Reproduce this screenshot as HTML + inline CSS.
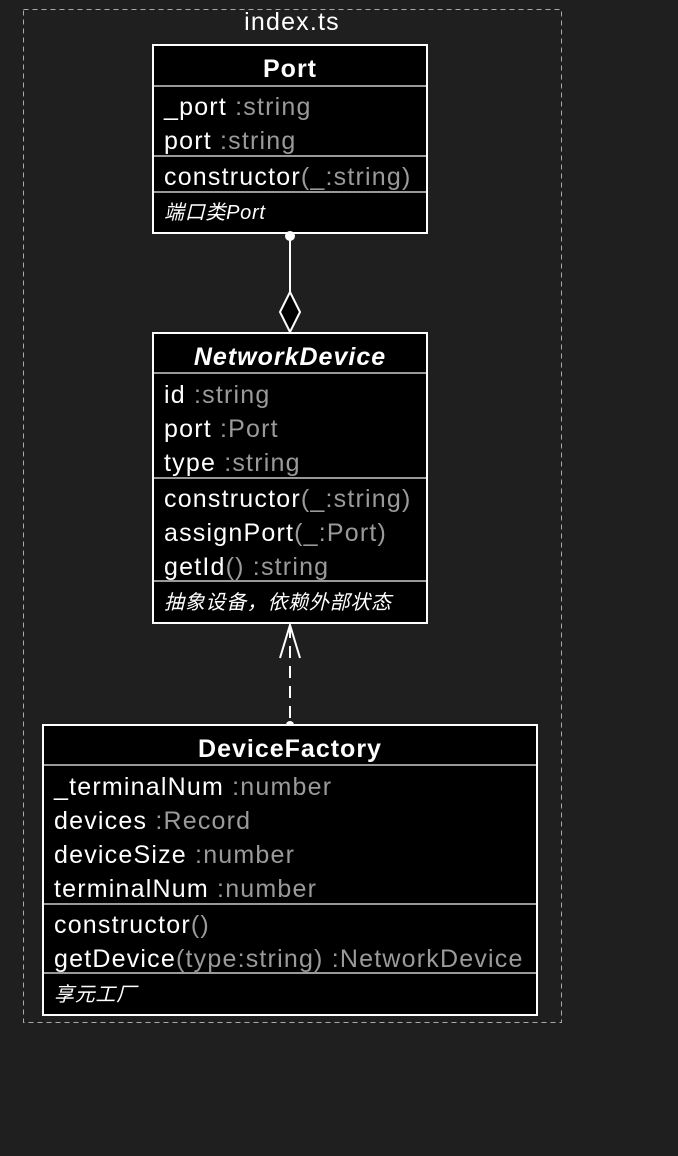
<!DOCTYPE html>
<html><head><meta charset="utf-8"><style>
html,body{margin:0;padding:0;background:#1f1f1f;}
svg{display:block}
text{font-family:"Liberation Sans","Noto Sans CJK SC",sans-serif;font-size:25px;fill:#fff;dominant-baseline:central;letter-spacing:1.2px}
.g{fill:#9a9a9a}
.t{font-weight:bold;text-anchor:middle;letter-spacing:1px}
.n{font-style:italic;font-size:20px;letter-spacing:0.7px}
</style></head><body>
<svg width="678" height="1156" viewBox="0 0 678 1156">
<rect x="23.5" y="9.5" width="538" height="1013" fill="none" stroke="#aaa" stroke-dasharray="5,4"/>

<!-- Port -->
<rect x="153" y="45" width="274" height="188" fill="#000" stroke="#fff" stroke-width="2"/>
<line x1="154" y1="86" x2="426" y2="86" stroke="#999" stroke-width="2"/>
<line x1="154" y1="156" x2="426" y2="156" stroke="#999" stroke-width="2"/>
<line x1="154" y1="192" x2="426" y2="192" stroke="#999" stroke-width="2"/>

<!-- aggregation -->
<circle cx="290" cy="236" r="5" fill="#fff"/>
<line x1="290" y1="236" x2="290" y2="293" stroke="#fff" stroke-width="2"/>
<polygon points="290,292 300,312 290,332 280,312" fill="#000" stroke="#fff" stroke-width="2"/>

<!-- NetworkDevice -->
<rect x="153" y="333" width="274" height="290" fill="#000" stroke="#fff" stroke-width="2"/>
<line x1="154" y1="373" x2="426" y2="373" stroke="#999" stroke-width="2"/>
<line x1="154" y1="478" x2="426" y2="478" stroke="#999" stroke-width="2"/>
<line x1="154" y1="581" x2="426" y2="581" stroke="#999" stroke-width="2"/>

<!-- dependency -->
<line x1="290" y1="626" x2="290" y2="722" stroke="#fff" stroke-width="2" stroke-dasharray="12,8"/>
<polyline points="280,658 290,625 300,658" fill="none" stroke="#fff" stroke-width="2"/>
<circle cx="290" cy="725" r="4" fill="#fff"/>

<!-- DeviceFactory -->
<rect x="43" y="725" width="494" height="290" fill="#000" stroke="#fff" stroke-width="2"/>
<line x1="44" y1="765" x2="536" y2="765" stroke="#999" stroke-width="2"/>
<line x1="44" y1="904" x2="536" y2="904" stroke="#999" stroke-width="2"/>
<line x1="44" y1="973" x2="536" y2="973" stroke="#999" stroke-width="2"/>

<g transform="translate(0,2)">
<text x="292" y="20" text-anchor="middle">index.ts</text>
<text class="t" x="290" y="67">Port</text>
<text x="164" y="105">_port <tspan class="g">:string</tspan></text>
<text x="164" y="139">port <tspan class="g">:string</tspan></text>
<text x="164" y="175">constructor<tspan class="g">(_:string)</tspan></text>
<text class="n" x="164" y="211">端口类Port</text>
<text class="t" x="290" y="355" font-style="italic">NetworkDevice</text>
<text x="164" y="393">id <tspan class="g">:string</tspan></text>
<text x="164" y="427">port <tspan class="g">:Port</tspan></text>
<text x="164" y="461">type <tspan class="g">:string</tspan></text>
<text x="164" y="497">constructor<tspan class="g">(_:string)</tspan></text>
<text x="164" y="531">assignPort<tspan class="g">(_:Port)</tspan></text>
<text x="164" y="565">getId<tspan class="g">() :string</tspan></text>
<text class="n" x="164" y="601">抽象设备，依赖外部状态</text>
<text class="t" x="290" y="747">DeviceFactory</text>
<text x="54" y="785">_terminalNum <tspan class="g">:number</tspan></text>
<text x="54" y="819">devices <tspan class="g">:Record</tspan></text>
<text x="54" y="853">deviceSize <tspan class="g">:number</tspan></text>
<text x="54" y="887">terminalNum <tspan class="g">:number</tspan></text>
<text x="54" y="923">constructor<tspan class="g">()</tspan></text>
<text x="54" y="957">getDevice<tspan class="g">(type:string) :NetworkDevice</tspan></text>
<text class="n" x="54" y="993">享元工厂</text>
</g>
</svg>
</body></html>
